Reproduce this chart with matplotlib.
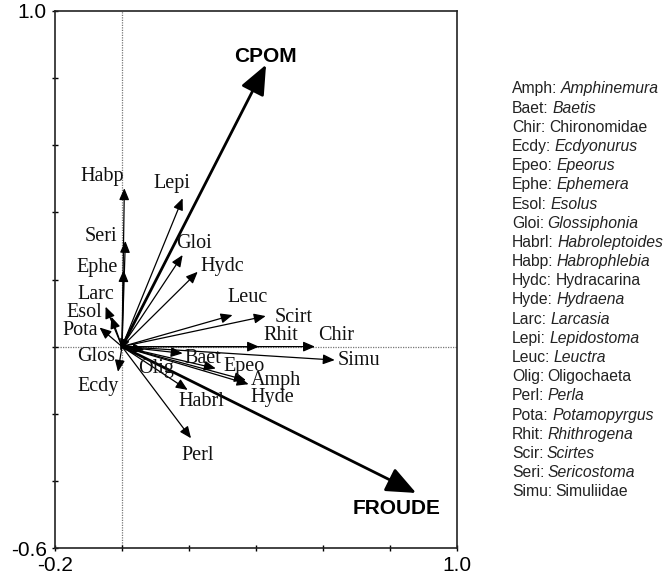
import matplotlib
matplotlib.use("Agg")
import matplotlib.pyplot as plt

# especies: nome, ponta da seta (x, y), posicao do rotulo (x, y)
especies = ["Habp", "Seri", "Ephe", "Lepi", "Gloi", "Hydc", "Larc", "Esol", "Pota",
            "Glos", "Ecdy", "Leuc", "Scirt", "Rhit", "Chir", "Simu", "Baet", "Epeo",
            "Amph", "Hyde", "Olig", "Habrl", "Perl"]
esp_x = [0.007, 0.010, 0.005, 0.181, 0.181, 0.226, -0.032, -0.049, -0.067,
         -0.005, -0.012, 0.330, 0.429, 0.409, 0.576, 0.635, 0.181, 0.280,
         0.370, 0.378, 0.067, 0.196, 0.206]
esp_y = [0.472, 0.315, 0.228, 0.442, 0.273, 0.223, 0.089, 0.119, 0.057,
         -0.012, -0.075, 0.094, 0.091, 0.000, 0.000, -0.040, -0.020, -0.065,
         -0.100, -0.112, -0.010, -0.129, -0.273]
rot_x = [-0.058, -0.062, -0.073, 0.149, 0.216, 0.300, -0.077, -0.112, -0.126,
         -0.077, -0.072, 0.374, 0.513, 0.474, 0.639, 0.707, 0.240, 0.365,
         0.459, 0.449, 0.102, 0.236, 0.226]
rot_y = [0.508, 0.327, 0.237, 0.487, 0.306, 0.240, 0.155, 0.102, 0.049,
         -0.030, -0.119, 0.147, 0.087, 0.032, 0.032, -0.042, -0.035, -0.058,
         -0.101, -0.152, -0.065, -0.164, -0.323]

# variaveis ambientais
amb = ["CPOM", "FROUDE"]
amb_x = [0.430, 0.878]
amb_y = [0.840, -0.436]
amb_rx = [0.429, 0.820]
amb_ry = [0.863, -0.481]

# legenda
leg_abrev = ["Amph", "Baet", "Chir", "Ecdy", "Epeo", "Ephe", "Esol", "Gloi", "Habrl",
             "Habp", "Hydc", "Hyde", "Larc", "Lepi", "Leuc", "Olig", "Perl", "Pota",
             "Rhit", "Scir", "Seri", "Simu"]
leg_nome = ["Amphinemura", "Baetis", "Chironomidae", "Ecdyonurus", "Epeorus", "Ephemera",
            "Esolus", "Glossiphonia", "Habroleptoides", "Habrophlebia", "Hydracarina",
            "Hydraena", "Larcasia", "Lepidostoma", "Leuctra", "Oligochaeta", "Perla",
            "Potamopyrgus", "Rhithrogena", "Scirtes", "Sericostoma", "Simuliidae"]
leg_italico = [True, True, False, True, True, True, True, True, True, True, False,
               True, True, True, True, False, True, True, True, True, True, False]

W, H = 666, 581
fig = plt.figure(figsize=(W / 100, H / 100), dpi=100)
ax = fig.add_axes([55 / W, 1 - 548 / H, 402 / W, 537 / H])
ax.set_xlim(-0.2, 1.0)
ax.set_ylim(-0.6, 1.0)

# linhas pontilhadas no zero
ax.axvline(0, color="#777777", lw=0.9, ls=(0, (1, 1)), zorder=1)
ax.axhline(0, color="#777777", lw=0.9, ls=(0, (1, 1)), zorder=1)

# setas das especies
for i in range(len(especies)):
    ax.annotate("", xy=(esp_x[i], esp_y[i]), xytext=(0, 0),
                arrowprops=dict(arrowstyle="-|>,head_length=0.7,head_width=0.3",
                                color="black", lw=0.9, shrinkA=0, shrinkB=0), zorder=3)
    ax.text(rot_x[i], rot_y[i], especies[i], ha="center", va="center",
            fontsize=14.5, family="Liberation Serif", color="#111111", zorder=4)

# setas ambientais
for i in range(len(amb)):
    ax.annotate("", xy=(amb_x[i], amb_y[i]), xytext=(0, 0),
                arrowprops=dict(arrowstyle="-|>,head_length=1.3,head_width=0.55",
                                color="black", lw=2.0, shrinkA=0, shrinkB=0,
                                mutation_scale=14), zorder=3)
    ax.text(amb_rx[i], amb_ry[i], amb[i], ha="center", va="center",
            fontsize=15, family="Liberation Sans", fontweight="bold", zorder=4)

# eixos
ticks_x = [-0.2, 0.0, 0.2, 0.4, 0.6, 0.8, 1.0]
ticks_y = [-0.6, -0.4, -0.2, 0.0, 0.2, 0.4, 0.6, 0.8, 1.0]
ax.set_xticks(ticks_x)
ax.set_xticklabels(["-0.2", "", "", "", "", "", "1.0"])
ax.set_yticks(ticks_y)
ax.set_yticklabels(["-0.6", "", "", "", "", "", "", "", "1.0"])
ax.tick_params(direction="inout", length=4, width=1, labelsize=15, pad=4)
for lab in ax.get_xticklabels() + ax.get_yticklabels():
    lab.set_family("Liberation Sans")
for s in ax.spines.values():
    s.set_linewidth(1.2)
    s.set_color("#222222")

# legenda com nomes em italico
r = fig.canvas.get_renderer()
y0 = 89
for i in range(len(leg_abrev)):
    y = 1 - (y0 + i * 19.18) / H
    t = fig.text(512 / W, y, leg_abrev[i] + ":", fontsize=11.3, family="Liberation Sans",
                 va="center", color="#222222")
    bb = t.get_window_extent(renderer=r)
    fig.text((bb.x1 + 3.5) / W, y, leg_nome[i], fontsize=11.3, family="Liberation Sans",
             va="center", color="#222222",
             style="italic" if leg_italico[i] else "normal")

fig.savefig("out.png", dpi=100)
